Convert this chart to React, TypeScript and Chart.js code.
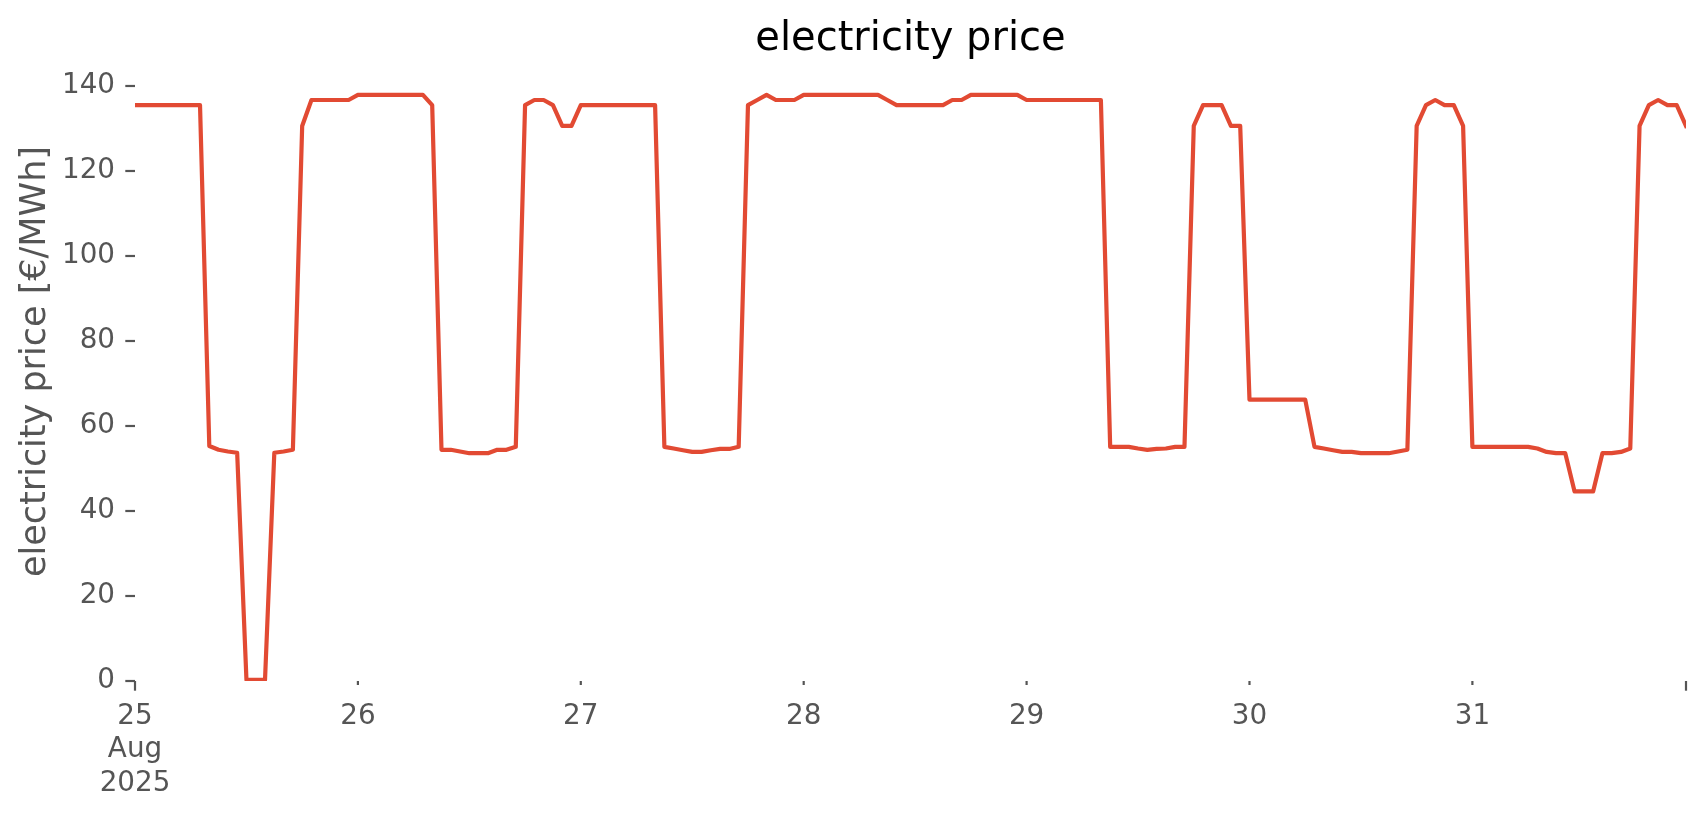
import React, { useEffect, useRef } from 'react';
import { Chart, registerables } from 'chart.js';

Chart.register(...registerables);

const TITLE = 'electricity price';
const Y_LABEL = 'electricity price [€/MWh]';

// hourly prices, one array per day (25–31 Aug 2025)
const day25 = [135.5, 135.5, 135.5, 135.5, 135.5, 135.5, 135.5, 135.5, 55.3, 54.4, 54.0, 53.7, 0.3, 0.3, 0.3, 53.7, 54.0, 54.4, 130.6, 136.7, 136.7, 136.7, 136.7, 136.7];
const day26 = [137.9, 137.9, 137.9, 137.9, 137.9, 137.9, 137.9, 137.9, 135.5, 54.4, 54.4, 54.0, 53.6, 53.6, 53.6, 54.4, 54.4, 55.1, 135.5, 136.7, 136.7, 135.5, 130.6, 130.6];
const day27 = [135.5, 135.5, 135.5, 135.5, 135.5, 135.5, 135.5, 135.5, 135.5, 55.1, 54.7, 54.3, 53.9, 53.9, 54.3, 54.6, 54.6, 55.1, 135.5, 136.7, 137.9, 136.7, 136.7, 136.7];
const day28 = [137.9, 137.9, 137.9, 137.9, 137.9, 137.9, 137.9, 137.9, 137.9, 136.7, 135.5, 135.5, 135.5, 135.5, 135.5, 135.5, 136.7, 136.7, 137.9, 137.9, 137.9, 137.9, 137.9, 137.9];
const day29 = [136.7, 136.7, 136.7, 136.7, 136.7, 136.7, 136.7, 136.7, 136.7, 55.1, 55.1, 55.1, 54.7, 54.4, 54.6, 54.7, 55.1, 55.1, 130.6, 135.5, 135.5, 135.5, 130.6, 130.6];
const day30 = [66.2, 66.2, 66.2, 66.2, 66.2, 66.2, 66.2, 55.1, 54.7, 54.3, 53.9, 53.9, 53.6, 53.6, 53.6, 53.6, 54.0, 54.4, 130.6, 135.5, 136.7, 135.5, 135.5, 130.6];
const day31 = [55.1, 55.1, 55.1, 55.1, 55.1, 55.1, 55.1, 54.7, 53.9, 53.6, 53.6, 44.6, 44.6, 44.6, 53.6, 53.6, 53.9, 54.7, 130.6, 135.5, 136.7, 135.5, 135.5, 130.6];

const prices = [...day25, ...day26, ...day27, ...day28, ...day29, ...day30, ...day31];

// x tick positions (hours since 25 Aug 00:00) and labels
const dayTickHours = [0, 24, 48, 72, 96, 120, 144];
const dayTickLabels: (string | string[])[] = [['25', 'Aug', '2025'], '26', '27', '28', '29', '30', '31'];
const majorTickHours = [0, 167];
const yTickValues = [0, 20, 40, 60, 80, 100, 120, 140];

const FONT = 'DejaVu Sans';
const TICK_COLOR = '#555555';

const tickMarks = {
  id: 'tickMarks',
  afterDraw(chart: any) {
    const { ctx, scales } = chart;
    const xs = scales.x;
    const ys = scales.y;
    ctx.save();
    ctx.strokeStyle = TICK_COLOR;
    ctx.lineWidth = 2.2;
    ctx.lineCap = 'butt';
    yTickValues.forEach((v) => {
      const py = ys.getPixelForValue(v);
      ctx.beginPath();
      ctx.moveTo(xs.left - 9.7, py);
      ctx.lineTo(xs.left, py);
      ctx.stroke();
    });
    dayTickHours.forEach((h) => {
      if (majorTickHours.includes(h)) return;
      const px = xs.getPixelForValue(h);
      ctx.beginPath();
      ctx.moveTo(px, ys.bottom);
      ctx.lineTo(px, ys.bottom + 4);
      ctx.stroke();
    });
    majorTickHours.forEach((h) => {
      const px = xs.getPixelForValue(h);
      ctx.beginPath();
      ctx.moveTo(px, ys.bottom);
      ctx.lineTo(px, ys.bottom + 9.7);
      ctx.stroke();
    });
    ctx.restore();
  },
};

export default function App() {
  const ref = useRef<HTMLCanvasElement | null>(null);

  useEffect(() => {
    if (!ref.current) return;
    const chart = new Chart(ref.current, {
      type: 'line',
      data: {
        datasets: [
          {
            data: prices.map((p, i) => ({ x: i, y: p })),
            borderColor: '#E24A33',
            borderWidth: 4.2,
            pointRadius: 0,
            tension: 0,
            borderJoinStyle: 'round',
            borderCapStyle: 'square',
            fill: false,
          },
        ],
      },
      options: {
        animation: false,
        responsive: false,
        devicePixelRatio: 1,
        layout: { padding: { left: 0, right: 20, top: 0, bottom: 0 } },
        plugins: {
          legend: { display: false },
          tooltip: { enabled: false },
          title: {
            display: true,
            text: TITLE,
            fullSize: false,
            color: '#000000',
            font: { family: FONT, size: 40, weight: 'normal', lineHeight: 0.1 },
            padding: { top: 38, bottom: 0 },
          },
        },
        scales: {
          x: {
            type: 'linear',
            min: 0,
            max: 167,
            grid: { display: false, drawTicks: false },
            border: { display: false },
            afterBuildTicks: (scale: any) => {
              scale.ticks = dayTickHours.map((h) => ({ value: h }));
            },
            afterFit: (scale: any) => {
              scale.height = 134;
            },
            ticks: {
              autoSkip: false,
              maxRotation: 0,
              minRotation: 0,
              padding: 19,
              color: TICK_COLOR,
              font: { family: FONT, size: 27.8, lineHeight: 1.2 },
              callback: (value: any) => {
                const idx = dayTickHours.indexOf(Number(value));
                return idx >= 0 ? dayTickLabels[idx] : '';
              },
            },
          },
          y: {
            min: 0,
            max: 150.35,
            grid: { display: false, drawTicks: false },
            border: { display: false },
            afterBuildTicks: (scale: any) => {
              scale.ticks = yTickValues.map((v) => ({ value: v }));
            },
            afterFit: (scale: any) => {
              scale.width = 135;
            },
            ticks: {
              padding: 20,
              color: TICK_COLOR,
              font: { family: FONT, size: 27.8, lineHeight: 1.2 },
              callback: (value: any) => String(value),
            },
            title: {
              display: true,
              text: Y_LABEL,
              color: TICK_COLOR,
              font: { family: FONT, size: 35, lineHeight: 1.2 },
              padding: { top: 15, bottom: 0 },
            },
          },
        },
      },
      plugins: [tickMarks],
    } as any);
    return () => chart.destroy();
  }, []);

  return (
    <canvas
      ref={ref}
      width={1706}
      height={815}
      style={{ position: 'fixed', left: 0, top: 0, width: '1706px', height: '815px', background: '#ffffff' }}
    />
  );
}
